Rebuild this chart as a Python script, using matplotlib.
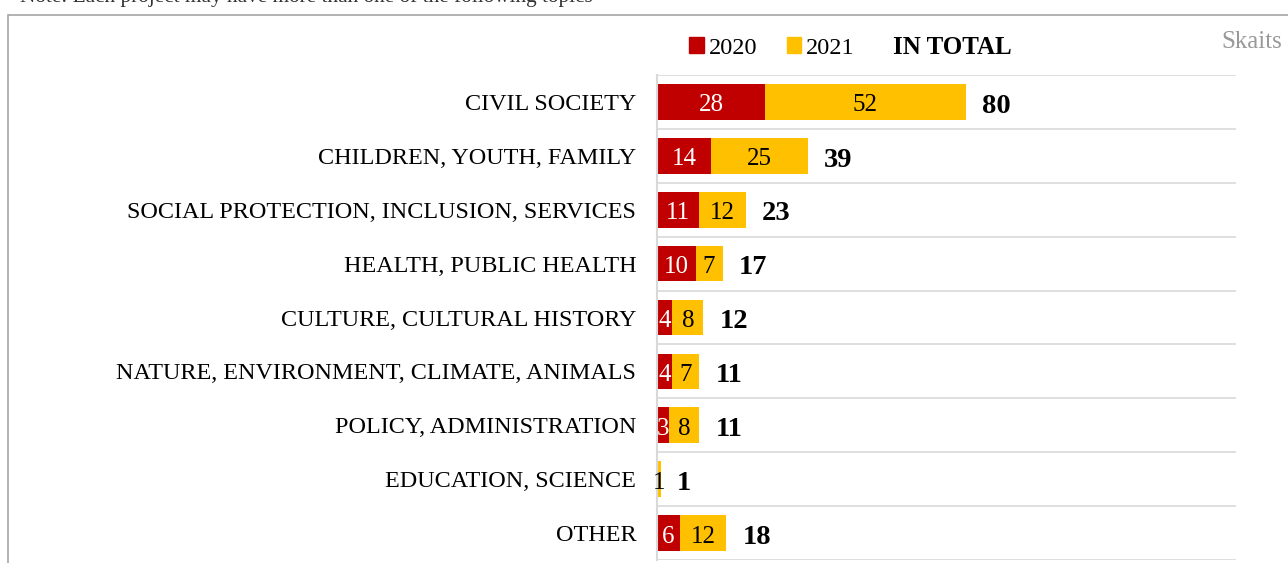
"""
topics_bar.py — projects by topic, 2020 vs 2021, stacked horizontal bars.
"""

import matplotlib.pyplot as plt
from matplotlib.patches import Patch, Rectangle

# ---------- Data ----------
categories = [
    "CIVIL SOCIETY",
    "CHILDREN, YOUTH, FAMILY",
    "SOCIAL PROTECTION, INCLUSION, SERVICES",
    "HEALTH, PUBLIC HEALTH",
    "CULTURE, CULTURAL HISTORY",
    "NATURE, ENVIRONMENT, CLIMATE, ANIMALS",
    "POLICY, ADMINISTRATION",
    "EDUCATION, SCIENCE",
    "OTHER",
]
values_2020 = [28, 14, 11, 10, 4, 4, 3, 0, 6]
values_2021 = [52, 25, 12, 7, 8, 7, 8, 1, 12]
totals = [80, 39, 23, 17, 12, 11, 11, 1, 18]

RED = "#C00000"
YELLOW = "#FFC000"
GRID = "#D9D9D9"

plt.rcParams["font.family"] = ["Liberation Serif", "DejaVu Serif"]

W, H = 1288, 563
fig = plt.figure(figsize=(W / 100, H / 100), dpi=100)

# outer chart frame (partly cropped off the image)
fig.patches.append(Rectangle((8 / W, -0.1), 1.2, 1 - 15 / H + 0.1,
                             transform=fig.transFigure, fill=False,
                             edgecolor="#A6A6A6", linewidth=1.2))

ax = fig.add_axes([657 / W, 1 - 560 / H, (1236 - 657) / W, (560 - 75) / H])

y = list(range(len(categories)))
bars20 = ax.barh(y, values_2020, height=0.66, color=RED)
bars21 = ax.barh(y, values_2021, left=values_2020, height=0.66, color=YELLOW)

ax.set_xlim(0, 150)
ax.set_ylim(len(categories) - 0.5, -0.5)

# row separators
for i in range(len(categories) + 1):
    ax.axhline(i - 0.5, color=GRID, linewidth=1.2, zorder=0)

for s in ["top", "right", "bottom"]:
    ax.spines[s].set_visible(False)
ax.spines["left"].set_color(GRID)
ax.spines["left"].set_linewidth(1.5)
ax.set_xticks([])
ax.set_yticks(y)
ax.set_yticklabels(categories, fontsize=17.4)
ax.tick_params(axis="y", length=0, pad=15)

# segment labels (nudged down a little to sit like the original)
for b, v in zip(bars20, values_2020):
    if v > 0:
        ax.annotate(str(v), xy=(b.get_x() + b.get_width() / 2, b.get_y() + b.get_height() / 2),
                    xytext=(0, -2.5), textcoords="offset points",
                    ha="center", va="center", color="white", fontsize=18)
for b, v in zip(bars21, values_2021):
    ax.annotate(str(v), xy=(b.get_x() + b.get_width() / 2, b.get_y() + b.get_height() / 2),
                xytext=(0, -2.5), textcoords="offset points",
                ha="center", va="center", color="black", fontsize=18)

# totals
for i, t in enumerate(totals):
    ax.annotate(str(t), xy=(t, i), xytext=(11.5, -3), textcoords="offset points",
                ha="left", va="center", fontsize=20.5, fontweight="bold")

# legend + headers
handles = [Patch(color=RED, label="2020"), Patch(color=YELLOW, label="2021")]
fig.legend(handles=handles, loc="center", bbox_to_anchor=(772 / W, 1 - 48 / H),
           ncol=2, frameon=False, fontsize=17.5, handlelength=0.6,
           handleheight=0.6, handletextpad=0.2, columnspacing=1.2)
fig.text(893 / W, 1 - 48 / H, "IN TOTAL", ha="left", va="center",
         fontsize=18, fontweight="bold")
fig.text(1282 / W, 1 - 42 / H, "Skaits", ha="right", va="center",
         fontsize=18, color="#999999")
fig.text(20 / W, 1 + 3 / H, "Note: Each project may have more than one of the following topics",
         ha="left", va="center", fontsize=15.3, color="#333333")

fig.savefig("out.png", dpi=100)
